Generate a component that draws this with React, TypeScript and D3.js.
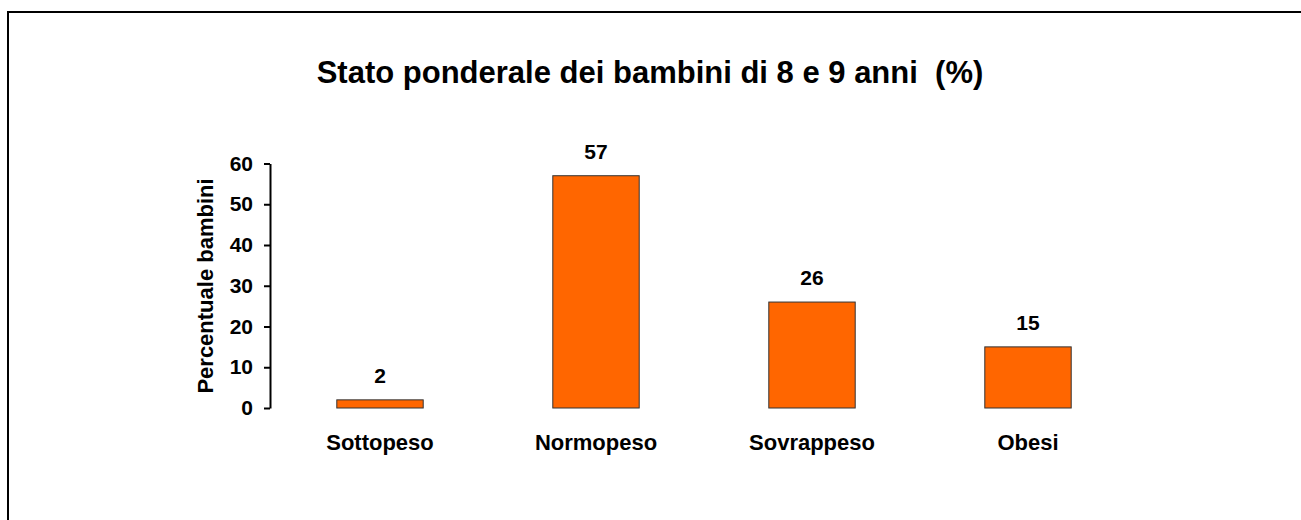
import { useEffect, useRef } from "react";
import * as d3 from "d3";

const categories = ["Sottopeso", "Normopeso", "Sovrappeso", "Obesi"];
const values = [2, 57, 26, 15];
const yTicks = [0, 10, 20, 30, 40, 50, 60];

const WIDTH = 1301;
const HEIGHT = 520;
const FONT = "'Liberation Sans', Arial, sans-serif";

export default function App() {
  const svgRef = useRef<SVGSVGElement>(null);

  useEffect(() => {
    const svg = d3.select(svgRef.current);
    svg.selectAll("*").remove();

    svg.append("rect").attr("width", WIDTH).attr("height", HEIGHT).attr("fill", "#fff");

    // Frame (left and top visible, rest cropped)
    svg.append("rect")
      .attr("x", 8)
      .attr("y", 12)
      .attr("width", WIDTH + 20)
      .attr("height", HEIGHT + 20)
      .attr("fill", "none")
      .attr("stroke", "#000")
      .attr("stroke-width", 2);

    const x = d3.scaleBand<string>()
      .domain(categories)
      .range([272, 1136])
      .paddingInner(0.6)
      .paddingOuter(0.3);

    const y = d3.scaleLinear().domain([0, 60]).range([408, 163.5]);

    // Title
    svg.append("text")
      .attr("x", 650)
      .attr("y", 83)
      .attr("text-anchor", "middle")
      .attr("font-family", FONT)
      .attr("font-weight", "bold")
      .attr("font-size", "31px")
      .attr("xml:space", "preserve")
      .text("Stato ponderale dei bambini di 8 e 9 anni  (%)");

    // Y axis
    const yAxis = d3.axisLeft(y).tickValues(yTicks).tickSize(6).tickSizeOuter(0).tickPadding(11);
    const ag = svg.append("g").attr("transform", "translate(270,0)").call(yAxis);
    ag.select(".domain").attr("stroke", "#000").attr("stroke-width", 2);
    ag.selectAll(".tick line").attr("stroke", "#000").attr("stroke-width", 2);
    ag.selectAll(".tick text")
      .attr("font-family", FONT)
      .attr("font-weight", "bold")
      .attr("font-size", "21px")
      .attr("fill", "#000");

    svg.append("text")
      .attr("transform", "translate(213,286) rotate(-90)")
      .attr("text-anchor", "middle")
      .attr("font-family", FONT)
      .attr("font-weight", "bold")
      .attr("font-size", "22px")
      .text("Percentuale bambini");

    // Bars
    categories.forEach((c, i) => {
      const v = values[i];
      svg.append("rect")
        .attr("x", x(c)!)
        .attr("y", y(v))
        .attr("width", x.bandwidth())
        .attr("height", y(0) - y(v))
        .attr("fill", "#FF6600")
        .attr("stroke", "#333")
        .attr("stroke-width", 1);

      svg.append("text")
        .attr("x", x(c)! + x.bandwidth() / 2)
        .attr("y", y(v) - 17)
        .attr("text-anchor", "middle")
        .attr("font-family", FONT)
        .attr("font-weight", "bold")
        .attr("font-size", "21px")
        .text(String(v));

      svg.append("text")
        .attr("x", x(c)! + x.bandwidth() / 2)
        .attr("y", 450)
        .attr("text-anchor", "middle")
        .attr("font-family", FONT)
        .attr("font-weight", "bold")
        .attr("font-size", "22px")
        .text(c);
    });
  }, []);

  return (
    <svg
      ref={svgRef}
      width={WIDTH}
      height={HEIGHT}
      style={{ position: "absolute", left: 0, top: 0 }}
    />
  );
}
